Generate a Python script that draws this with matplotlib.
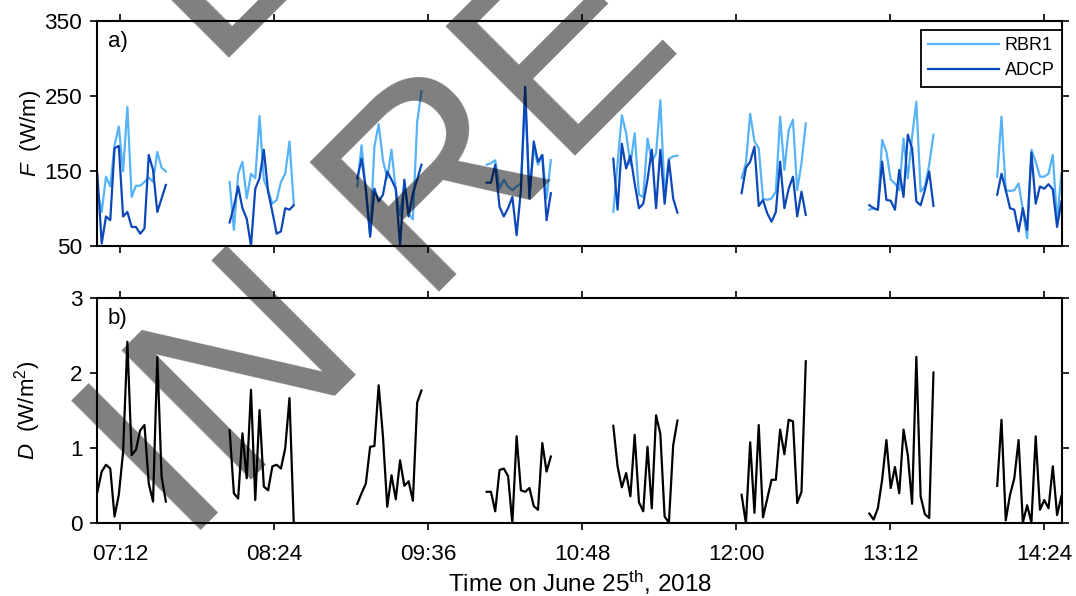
import numpy as np
import matplotlib
matplotlib.use("Agg")
import matplotlib.pyplot as plt

plt.rcParams['font.family'] = ['Liberation Sans', 'DejaVu Sans']
plt.rcParams['mathtext.fontset'] = 'custom'
plt.rcParams['mathtext.rm'] = 'Liberation Sans'
plt.rcParams['mathtext.it'] = 'Liberation Sans:italic'

# minutes after 07:00, start of each 30 min burst, samples every 2 min
burst_start = [1.3, 63.1, 122.8, 183.3, 242.5, 302.5, 362.2, 422.0]
dt = 2.0

# energy flux F (W/m)
rbr1 = [
    [125, 95, 142, 129, 184, 209, 149, 235, 115, 130, 130, 135, 141, 135, 175, 154, 149],
    [135, 71, 146, 162, 113, 146, 140, 223, 138, 124, 106, 111, 135, 146, 189, 106],
    [129, 184, 125, 65, 182, 212, 164, 140, 178, 124, 90, 134, 93, 85, 215, 256],
    [158, 160, 164, 126, 138, 129, 124, 129, 133, 245, 115, 180, 158, 171, 113, 164],
    [95, 160, 224, 200, 158, 200, 118, 115, 193, 162, 173, 244, 118, 166, 169, 170],
    [140, 160, 226, 189, 180, 113, 111, 113, 122, 222, 151, 204, 218, 124, 160, 213],
    [98, 100, 98, 191, 175, 138, 133, 124, 193, 140, 195, 242, 122, 129, 158, 198],
    [142, 222, 124, 123, 124, 133, 98, 60, 178, 162, 142, 142, 146, 171, 82, 146],
]
adcp = [
    [145, 53, 89, 84, 180, 183, 89, 95, 75, 75, 66, 73, 171, 151, 95, 113, 131],
    [81, 102, 129, 100, 86, 50, 126, 140, 178, 122, 95, 66, 69, 100, 98, 104],
    [140, 166, 126, 62, 126, 109, 118, 149, 138, 126, 50, 138, 89, 120, 138, 158],
    [134, 134, 158, 102, 89, 100, 115, 64, 124, 262, 113, 189, 162, 171, 84, 120],
    [166, 98, 186, 153, 170, 133, 100, 106, 138, 178, 100, 178, 106, 164, 113, 94],
    [120, 154, 162, 182, 103, 111, 93, 82, 95, 162, 100, 126, 142, 89, 122, 91],
    [104, 100, 98, 162, 111, 110, 98, 151, 115, 198, 180, 109, 104, 124, 149, 103],
    [118, 146, 124, 100, 98, 69, 100, 71, 174, 106, 129, 126, 132, 125, 75, 109],
]
# dissipation D (W/m^2)
dis = [
    [0.42, 0.69, 0.78, 0.73, 0.09, 0.38, 0.95, 2.42, 0.91, 0.98, 1.24, 1.31, 0.53, 0.29, 2.22, 0.62, 0.29],
    [1.24, 0.40, 0.33, 1.20, 0.60, 1.78, 0.31, 1.51, 0.49, 0.44, 0.76, 0.78, 0.73, 1.00, 1.67, 0.00],
    [0.26, 0.40, 0.53, 1.02, 1.03, 1.84, 1.16, 0.22, 0.64, 0.32, 0.84, 0.50, 0.56, 0.30, 1.61, 1.77],
    [0.42, 0.42, 0.16, 0.71, 0.73, 0.63, 0.00, 1.16, 0.44, 0.42, 0.47, 0.23, 0.18, 1.07, 0.69, 0.89],
    [1.30, 0.76, 0.48, 0.67, 0.36, 1.18, 0.28, 0.16, 1.02, 0.20, 1.44, 1.19, 0.09, 0.01, 1.04, 1.37],
    [0.38, 0.00, 1.08, 0.14, 1.31, 0.08, 0.33, 0.58, 0.58, 1.25, 0.92, 1.38, 1.36, 0.27, 0.42, 2.16],
    [0.13, 0.05, 0.20, 0.58, 1.11, 0.47, 0.75, 0.40, 1.25, 0.91, 0.26, 2.22, 0.36, 0.12, 0.07, 2.01],
    [0.50, 1.38, 0.04, 0.38, 0.60, 1.11, 0.01, 0.24, 0.01, 1.16, 0.18, 0.31, 0.20, 0.76, 0.11, 0.36],
]

xticks = [12, 84, 156, 228, 300, 372, 444]
xtick_labels = ['07:12', '08:24', '09:36', '10:48', '12:00', '13:12', '14:24']


def join_bursts(vals):
    # one line per series, gaps between bursts as NaN
    xs, ys = [], []
    for t0, v in zip(burst_start, vals):
        xs += list(t0 + dt * np.arange(len(v))) + [np.nan]
        ys += list(v) + [np.nan]
    return np.array(xs), np.array(ys)


c_light = '#57b2f6'
c_dark = '#0d48b8'

fig = plt.figure(figsize=(10.76, 5.96), dpi=100)
ax1 = fig.add_axes([0.09015, 0.58775, 0.89684, 0.37752])
ax2 = fig.add_axes([0.09015, 0.12198, 0.89684, 0.37752])

x, y = join_bursts(rbr1)
ax1.plot(x, y, color=c_light, lw=1.6, label='RBR1')
x, y = join_bursts(adcp)
ax1.plot(x, y, color=c_dark, lw=1.6, label='ADCP')
x, y = join_bursts(dis)
ax2.plot(x, y, color='black', lw=1.6)

for ax in (ax1, ax2):
    ax.set_xlim(1.1, 452.3)
    ax.set_xticks(xticks)
    ax.tick_params(direction='out', length=5, width=1.2, top=True, right=True,
                   labelsize=16.2, colors='black')
    ax.tick_params(axis='y', pad=5.5)
    ax.tick_params(axis='x', pad=10)
    for s in ax.spines.values():
        s.set_linewidth(1.5)

ax1.set_ylim(50, 350)
ax1.set_yticks([50, 150, 250, 350])
ax1.set_xticklabels([])
ax2.set_ylim(0, 3)
ax2.set_yticks([0, 1, 2, 3])
ax2.set_xticklabels(xtick_labels)

ax1.set_ylabel(r'$F$  (W/m)', fontsize=16)
ax2.set_ylabel(r'$D$  (W/m$^2$)', fontsize=16)
ax1.yaxis.set_label_coords(-0.056, 0.5)
ax2.yaxis.set_label_coords(-0.056, 0.5)
ax2.set_xlabel(r'Time on June 25$^{\rm th}$, 2018', fontsize=17.5)
ax2.xaxis.set_label_coords(0.5, -0.2)

ax1.text(0.011, 0.955, 'a)', transform=ax1.transAxes, fontsize=16, va='top')
ax2.text(0.011, 0.955, 'b)', transform=ax2.transAxes, fontsize=16, va='top')

leg = ax1.legend(loc='upper right', bbox_to_anchor=(1.0, 0.9587), borderaxespad=0,
                 fontsize=13, handlelength=3.9, handletextpad=0.35, labelspacing=0.45,
                 borderpad=0.4, fancybox=False, framealpha=1)
leg.get_frame().set_edgecolor('black')
leg.get_frame().set_linewidth(1.3)

# diagonal watermark over the figure
fig.text(184.4 / 1076, 1 - 546.8 / 596, 'IN REVIEW', fontsize=191.5, rotation=45,
         rotation_mode='anchor', ha='left', va='baseline', color='black', alpha=0.5)
fig.text(207.5 / 1076, 1 - 58.5 / 596, 'E', fontsize=191.5, rotation=45,
         rotation_mode='anchor', ha='left', va='baseline', color='black', alpha=0.5)

fig.savefig('out.png', dpi=100)
